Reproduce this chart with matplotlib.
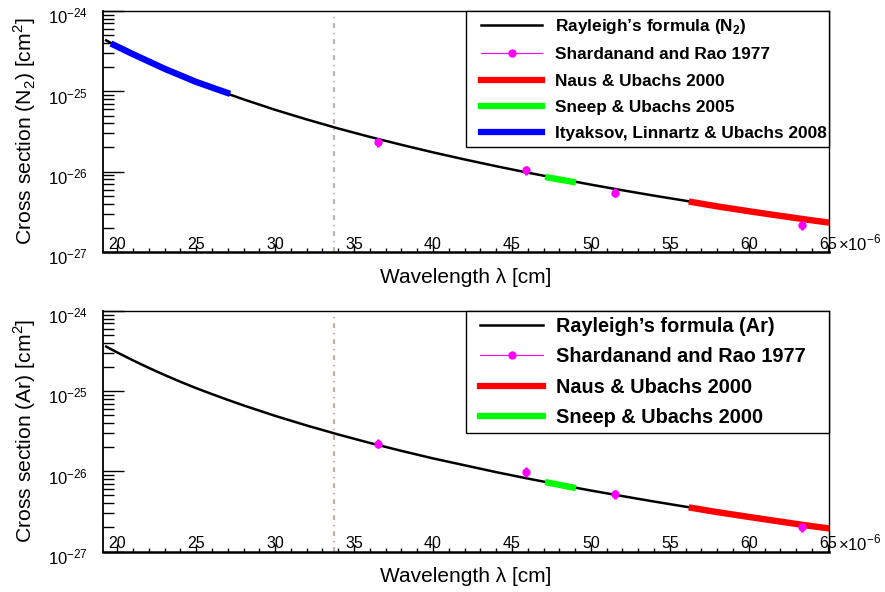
import matplotlib
matplotlib.use("Agg")
import matplotlib.pyplot as plt
from matplotlib.lines import Line2D
from matplotlib.legend_handler import HandlerLine2D
from matplotlib.transforms import ScaledTranslation
from matplotlib.ticker import MultipleLocator, FixedLocator, LogLocator, NullFormatter

plt.rcParams['font.family'] = ['Liberation Sans', 'DejaVu Sans']
plt.rcParams['mathtext.fontset'] = 'custom'
plt.rcParams['mathtext.rm'] = 'Liberation Sans'
plt.rcParams['mathtext.bf'] = 'Liberation Sans:bold'

# wavelength in units of 1e-6 cm, cross sections in cm^2
lam = [19.3, 20, 21, 22, 23, 24, 25, 26, 27, 28, 30, 32, 34, 36, 38, 40,
       42, 44, 46, 48, 50, 52, 54, 56, 58, 60, 62, 64, 65.1]
rayleigh_n2 = [4.31e-25, 3.64e-25, 2.90e-25, 2.34e-25, 1.91e-25, 1.57e-25,
               1.31e-25, 1.10e-25, 9.32e-26, 7.95e-26, 5.89e-26, 4.47e-26,
               3.45e-26, 2.71e-26, 2.16e-26, 1.74e-26, 1.42e-26, 1.17e-26,
               9.73e-27, 8.17e-27, 6.90e-27, 5.87e-27, 5.03e-27, 4.34e-27,
               3.76e-27, 3.27e-27, 2.86e-27, 2.51e-27, 2.35e-27]
rayleigh_ar = [3.60e-25, 3.04e-25, 2.42e-25, 1.95e-25, 1.59e-25, 1.31e-25,
               1.09e-25, 9.19e-26, 7.79e-26, 6.64e-26, 4.92e-26, 3.73e-26,
               2.88e-26, 2.26e-26, 1.80e-26, 1.45e-26, 1.19e-26, 9.77e-27,
               8.13e-27, 6.82e-27, 5.76e-27, 4.91e-27, 4.20e-27, 3.62e-27,
               3.14e-27, 2.73e-27, 2.39e-27, 2.10e-27, 1.96e-27]

# Shardanand and Rao 1977
sr_lam = [36.5, 45.9, 51.55, 63.4]
sr_n2 = [2.35e-26, 1.04e-26, 5.50e-27, 2.18e-27]
sr_n2_err = [3.0e-27, 1.35e-27, 0.72e-27, 0.28e-27]
sr_ar = [2.22e-26, 9.9e-27, 5.25e-27, 2.02e-27]
sr_ar_err = [2.9e-27, 1.3e-27, 0.68e-27, 0.26e-27]

# Naus & Ubachs 2000
nu_lam = [56.2, 58, 60, 62, 64, 65.1]
nu_n2 = [4.25e-27, 3.70e-27, 3.22e-27, 2.82e-27, 2.48e-27, 2.32e-27]
nu_ar = [3.55e-27, 3.10e-27, 2.70e-27, 2.36e-27, 2.07e-27, 1.94e-27]

# Sneep & Ubachs
su_lam = [47.1, 49.05]
su_n2 = [8.6e-27, 7.35e-27]
su_ar = [7.35e-27, 6.18e-27]

# Ityaksov, Linnartz & Ubachs 2008 (N2 only)
il_lam = [19.6, 21, 23, 25, 27.15]
il_n2 = [3.94e-25, 2.90e-25, 1.91e-25, 1.31e-25, 9.30e-26]

laser_lam = 33.7
decades = [1e-27, 1e-26, 1e-25, 1e-24]

fig = plt.figure(figsize=(8.85, 5.92), dpi=100)
ax1 = fig.add_axes([0.1164, 0.5743, 0.8203, 0.4071])
ax2 = fig.add_axes([0.1164, 0.0684, 0.8203, 0.4063])


def style_axis(ax, ylabel):
    ax.set_yscale('log')
    ax.set_xlim(19.1, 65.08)
    ax.set_ylim(1e-27, 1e-24)
    ax.xaxis.set_major_locator(MultipleLocator(5))
    ax.xaxis.set_minor_locator(MultipleLocator(1))
    ax.yaxis.set_major_locator(FixedLocator(decades))
    ax.yaxis.set_minor_locator(LogLocator(base=10, subs=range(2, 10), numticks=20))
    ax.yaxis.set_minor_formatter(NullFormatter())
    ax.tick_params(axis='both', which='both', direction='in', top=False, right=False, width=1)
    ax.tick_params(axis='y', which='major', length=15, pad=11, labelsize=12)
    ax.tick_params(axis='y', which='minor', length=8)
    ax.tick_params(axis='x', which='major', length=6, pad=-11, labelsize=11.5)
    ax.tick_params(axis='x', which='minor', length=3)
    for s in ax.spines.values():
        s.set_linewidth(1)
    ax.spines['bottom'].set_linewidth(1.8)
    ax.spines['left'].set_linewidth(1.3)
    ax.set_xlabel('Wavelength λ [cm]', fontsize=15)
    ax.set_ylabel(ylabel, fontsize=15.2)
    ax.yaxis.set_label_coords(-0.090, 0.5)
    ax.xaxis.set_label_coords(0.5, -0.065)
    ax.text(1.012, 0.035, r'$\times$10$^{-6}$', transform=ax.transAxes,
            fontsize=12, ha='left', va='center')
    ax.axvline(laser_lam, color='#bdb3a8', lw=1.6, linestyle=(0, (2.2, 2.2, 0.6, 2.2)), zorder=1)


# top panel: N2
style_axis(ax1, r'Cross section (N$_2$) [cm$^2$]')
ax1.plot(lam, rayleigh_n2, color='black', lw=1.8, zorder=2)
ax1.plot(il_lam, il_n2, color='#0000ff', lw=4.6, solid_capstyle='butt', zorder=3)
ax1.plot(su_lam, su_n2, color='#00ff00', lw=4.6, solid_capstyle='butt', zorder=3)
ax1.plot(nu_lam, nu_n2, color='#ff0000', lw=4.6, solid_capstyle='butt', zorder=3)
ax1.errorbar(sr_lam, sr_n2, yerr=sr_n2_err, fmt='o', color='#ff00ff', ms=5,
             elinewidth=2, capsize=0, zorder=4)

h1 = [Line2D([], [], color='black', lw=1.8),
      Line2D([], [], color='#ff00ff', lw=0.8, marker='o', ms=5),
      Line2D([], [], color='#ff0000', lw=4.5),
      Line2D([], [], color='#00ff00', lw=4.5),
      Line2D([], [], color='#0000ff', lw=4.5)]
l1 = ['Rayleigh’s formula (N$_\\mathbf{2}$)', 'Shardanand and Rao 1977',
      'Naus & Ubachs 2000', 'Sneep & Ubachs 2005',
      'Ityaksov, Linnartz & Ubachs 2008']
leg1 = ax1.legend(h1, l1, loc='upper left', bbox_to_anchor=(0.5, 0.0, 0.5, 1.0),
                  mode='expand', borderaxespad=0, fancybox=False, framealpha=1,
                  edgecolor='black', prop={'weight': 'bold', 'size': 12.4},
                  borderpad=0.35, labelspacing=0.65, handlelength=4.05,
                  handletextpad=0.74, numpoints=1,
                  handler_map={Line2D: HandlerLine2D(xpad=0.55)})
leg1.get_frame().set_linewidth(1)

# bottom panel: Ar
style_axis(ax2, r'Cross section (Ar) [cm$^2$]')
ax2.plot(lam, rayleigh_ar, color='black', lw=1.8, zorder=2)
ax2.plot(su_lam, su_ar, color='#00ff00', lw=4.6, solid_capstyle='butt', zorder=3)
ax2.plot(nu_lam, nu_ar, color='#ff0000', lw=4.6, solid_capstyle='butt', zorder=3)
ax2.errorbar(sr_lam, sr_ar, yerr=sr_ar_err, fmt='o', color='#ff00ff', ms=5,
             elinewidth=2, capsize=0, zorder=4)

h2 = h1[:4]
l2 = ['Rayleigh’s formula (Ar)', 'Shardanand and Rao 1977',
      'Naus & Ubachs 2000', 'Sneep & Ubachs 2000']
leg2 = ax2.legend(h2, l2, loc='upper left', bbox_to_anchor=(0.5, 0.0, 0.5, 1.0),
                  mode='expand', borderaxespad=0, fancybox=False, framealpha=1,
                  edgecolor='black', prop={'weight': 'bold', 'size': 14.3},
                  borderpad=0.3, labelspacing=0.57, handlelength=3.59,
                  handletextpad=0.65, numpoints=1,
                  handler_map={Line2D: HandlerLine2D(xpad=0.4)})
leg2.get_frame().set_linewidth(1)

# nudge the decade labels a little downwards, as in the original
fig.canvas.draw()
shift = ScaledTranslation(0, -3 / 72, fig.dpi_scale_trans)
for ax in (ax1, ax2):
    for tick in ax.yaxis.get_major_ticks():
        tick.label1.set_transform(tick.label1.get_transform() + shift)

fig.savefig('out.png', dpi=100)
